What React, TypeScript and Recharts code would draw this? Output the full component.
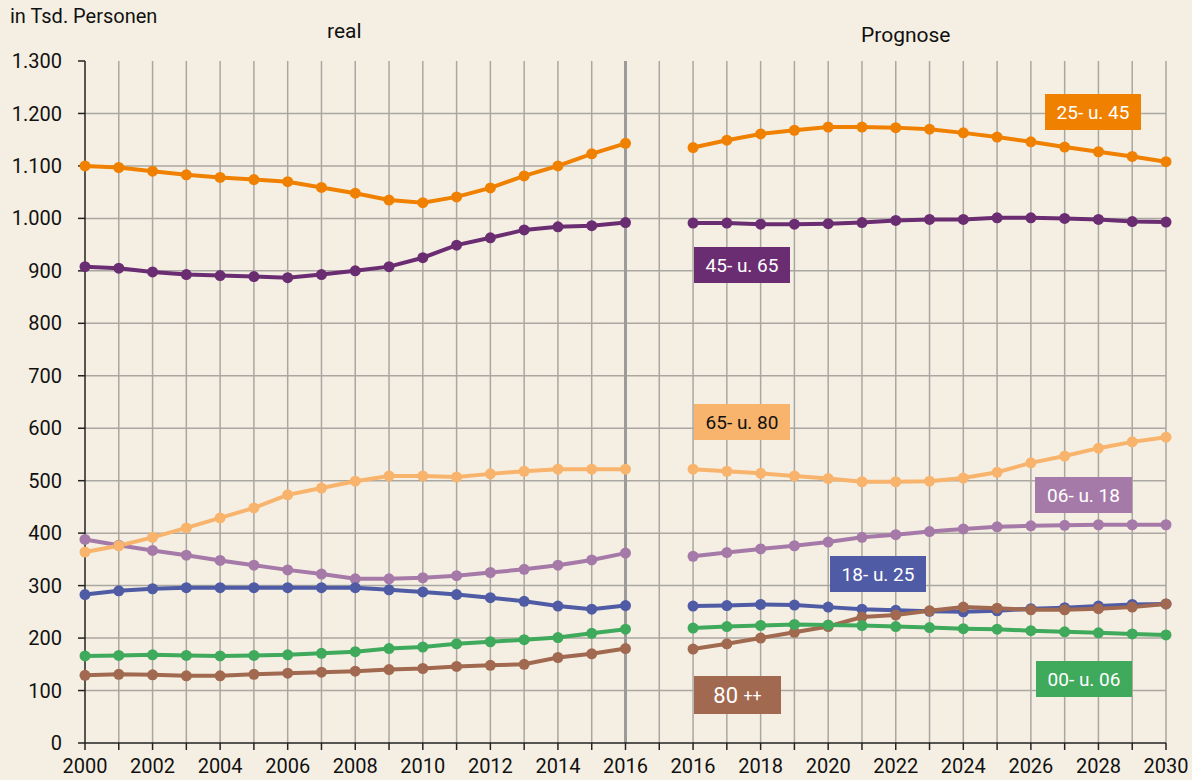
import { LineChart, Line, XAxis, YAxis, CartesianGrid, ReferenceLine } from "recharts";

// categories: real 2000-2016, a blank gap, then Prognose 2016-2030
const years = [
  "2000", "2001", "2002", "2003", "2004", "2005", "2006", "2007", "2008", "2009",
  "2010", "2011", "2012", "2013", "2014", "2015", "2016", "",
  "2016", "2017", "2018", "2019", "2020", "2021", "2022", "2023", "2024", "2025",
  "2026", "2027", "2028", "2029", "2030",
];

const yTicks = [0, 100, 200, 300, 400, 500, 600, 700, 800, 900, 1000, 1100, 1200, 1300];

// in Tsd. Personen, null = gap between real and Prognose
const age25to45 = [
  1100, 1097, 1090, 1083, 1078, 1074, 1070, 1059, 1048, 1035,
  1030, 1041, 1058, 1081, 1100, 1123, 1143, null,
  1135, 1149, 1161, 1168, 1174, 1174, 1173, 1170, 1163, 1155,
  1146, 1136, 1127, 1118, 1108,
];
const age45to65 = [
  908, 905, 898, 893, 891, 889, 887, 893, 900, 908,
  925, 949, 963, 978, 984, 986, 992, null,
  991, 991, 989, 989, 990, 992, 996, 998, 998, 1001,
  1001, 1000, 998, 994, 993,
];
const age65to80 = [
  364, 376, 392, 410, 429, 448, 473, 486, 499, 509,
  509, 507, 513, 518, 522, 522, 522, null,
  522, 518, 514, 509, 504, 498, 498, 499, 505, 516,
  534, 547, 562, 574, 583,
];
const age06to18 = [
  388, 377, 367, 358, 348, 339, 330, 322, 313, 313,
  315, 319, 325, 331, 339, 349, 362, null,
  356, 363, 370, 376, 383, 392, 397, 403, 408, 412,
  414, 415, 416, 416, 416,
];
const age18to25 = [
  283, 290, 294, 296, 296, 296, 296, 296, 296, 292,
  288, 283, 277, 270, 261, 255, 262, null,
  261, 262, 264, 263, 259, 255, 253, 251, 250, 252,
  256, 258, 261, 264, 265,
];
const age00to06 = [
  166, 167, 168, 167, 166, 167, 168, 171, 174, 180,
  183, 189, 193, 197, 201, 209, 217, null,
  219, 222, 224, 226, 225, 224, 222, 220, 218, 217,
  214, 212, 210, 208, 206,
];
const age80plus = [
  129, 131, 130, 128, 128, 131, 133, 135, 137, 140,
  142, 146, 148, 150, 163, 170, 180, null,
  179, 189, 200, 211, 222, 240, 244, 252, 259, 257,
  254, 254, 256, 259, 265,
];

const data = years.map((label, i) => ({
  idx: i,
  label,
  a25: age25to45[i],
  a45: age45to65[i],
  a65: age65to80[i],
  a06: age06to18[i],
  a18: age18to25[i],
  a00: age00to06[i],
  a80: age80plus[i],
}));

const FONT = "Roboto, 'Noto Sans', sans-serif";
const BG = "#f5efe3";

const series = [
  { key: "a06", color: "#a67aa8" },
  { key: "a65", color: "#f8b46c" },
  { key: "a18", color: "#4f5ba5" },
  { key: "a80", color: "#a1694f" },
  { key: "a00", color: "#3fa95c" },
  { key: "a45", color: "#6b2d72" },
  { key: "a25", color: "#f08000" },
];

const boxes = [
  { text: "25- u. 45", left: 1045, top: 94, w: 96, h: 36, bg: "#f08000", fg: "#fff" },
  { text: "45- u. 65", left: 694, top: 247, w: 96, h: 36, bg: "#6b2d72", fg: "#fff" },
  { text: "65- u. 80", left: 694, top: 404, w: 96, h: 36, bg: "#f8b46c", fg: "#111" },
  { text: "06- u. 18", left: 1035, top: 477, w: 97, h: 36, bg: "#a67aa8", fg: "#fff" },
  { text: "18- u. 25", left: 830, top: 556, w: 96, h: 36, bg: "#4f5ba5", fg: "#fff" },
  { text: "00- u. 06", left: 1036, top: 661, w: 96, h: 36, bg: "#3fa95c", fg: "#fff" },
];

const fmt = (v: number) =>
  v >= 1000 ? `${Math.floor(v / 1000)}.${String(v % 1000).padStart(3, "0")}` : String(v);

export default function App() {
  return (
    <div style={{ position: "absolute", left: 0, top: 0, width: 1192, height: 780, background: BG, fontFamily: FONT, overflow: "hidden" }}>
      <div style={{ position: "absolute", left: 10, top: 4, fontSize: 20, color: "#111" }}>in Tsd. Personen</div>
      <div style={{ position: "absolute", left: 327, top: 19, fontSize: 21, color: "#111" }}>real</div>
      <div style={{ position: "absolute", left: 861, top: 23, fontSize: 21, color: "#111" }}>Prognose</div>

      <LineChart width={1192} height={780} data={data} margin={{ top: 61, right: 26, bottom: 0, left: 0 }}>
        <CartesianGrid
          stroke="#aaa7a1"
          strokeWidth={1.5}
          horizontalValues={yTicks.slice(1, -1)}
          verticalValues={years.map((_, i) => i).slice(1)}
        />
        <XAxis
          dataKey="idx"
          type="number"
          domain={[0, years.length - 1]}
          ticks={years.map((_, i) => i)}
          interval={0}
          tickFormatter={(v: number) => (v % 2 === 0 ? years[v] : "")}
          height={37}
          tickSize={7}
          tickMargin={9}
          stroke="#222"
          strokeWidth={1.5}
          tick={{ fill: "#111", fontSize: 20, fontFamily: FONT }}
        />
        <YAxis
          domain={[0, 1300]}
          ticks={yTicks}
          interval={0}
          tickFormatter={fmt}
          width={85}
          tickSize={7}
          tickMargin={16}
          stroke="#222"
          strokeWidth={1.5}
          tick={{ fill: "#111", fontSize: 20, fontFamily: FONT }}
        />
        <ReferenceLine x={16} stroke="#9c9b98" strokeWidth={3} />
        {series.map((s) => (
          <Line
            key={s.key}
            dataKey={s.key}
            stroke={s.color}
            strokeWidth={4}
            dot={{ r: 5.5, fill: s.color, stroke: s.color, strokeWidth: 0 }}
            type="linear"
            connectNulls={false}
            isAnimationActive={false}
          />
        ))}
      </LineChart>

      {boxes.map((b) => (
        <div
          key={b.text}
          style={{
            position: "absolute", left: b.left, top: b.top, width: b.w, height: b.h,
            background: b.bg, color: b.fg, fontSize: 19, display: "flex",
            alignItems: "center", justifyContent: "center", whiteSpace: "pre",
          }}
        >
          {b.text}
        </div>
      ))}
      <div
        style={{
          position: "absolute", left: 694, top: 676, width: 87, height: 38,
          background: "#a1694f", color: "#fff", display: "flex",
          alignItems: "center", justifyContent: "center", whiteSpace: "pre",
        }}
      >
        <span style={{ fontSize: 22 }}>80 </span>
        <span style={{ fontSize: 16 }}>++</span>
      </div>
    </div>
  );
}
